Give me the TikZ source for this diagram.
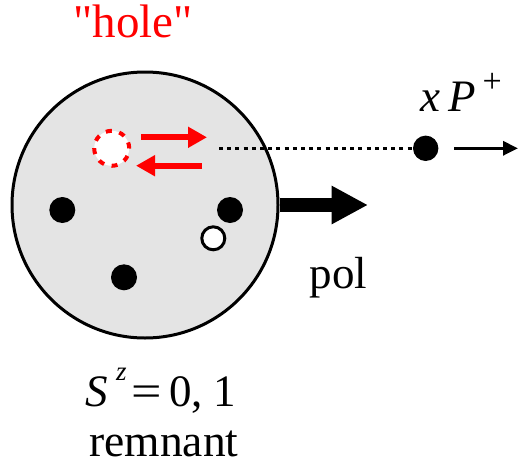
\documentclass[tikz,border=0pt]{standalone}
\usepackage{fontspec}
\setmainfont{Liberation Serif}[Ligatures=TeXOff]
\usetikzlibrary{arrows.meta}
\definecolor{ballgray}{RGB}{228,228,228}
\definecolor{holered}{RGB}{255,0,0}
\tikzset{
  bigtxt/.style={font=\fontsize{45}{50}\selectfont, inner sep=0pt, anchor=base, text depth=0pt},
  soliddot/.style={circle, fill=black, inner sep=0pt, minimum size=26pt},
  opendot/.style={circle, draw=black, fill=white, line width=3pt, inner sep=0pt, minimum size=23pt},
  redarrow/.style={draw=holered, line width=6pt, -{Triangle[length=19pt,width=20pt]}},
}
\begin{document}
\begin{tikzpicture}[x=1pt,y=-1pt]
\useasboundingbox (0,0) rectangle (519,466);
% hadron
\node[circle, draw=black, fill=ballgray, line width=3pt, inner sep=0pt, minimum size=266pt] (ball) at (145,205) {};
% hole
\node[circle, draw=holered, fill=white, line width=4pt, dash pattern=on 6pt off 7.7pt, inner sep=0pt, minimum size=35pt] (hole) at (111.7,148.3) {};
% remnant partons
\node[soliddot] (q1) at (62.3,210) {};
\node[soliddot] (q2) at (230,210) {};
\node[soliddot] (q3) at (124,277.3) {};
\node[opendot] (aq) at (213.3,238.3) {};
% red arrows
\coordinate (ra1) at (141,137.3);
\coordinate (ra2) at (207,137.3);
\coordinate (rb1) at (202,165.7);
\coordinate (rb2) at (136,165.7);
\draw[redarrow] (ra1) -- (ra2);
\draw[redarrow] (rb1) -- (rb2);
% outgoing parton
\node[soliddot, minimum size=25.4pt] (out) at (425.7,148.3) {};
\coordinate (dl) at (219,148.3);
\draw[line width=3pt, dash pattern=on 4pt off 4.2pt] (dl) -- (out);
\coordinate (sa1) at (454,148.3);
\coordinate (sa2) at (518,148.3);
\draw[line width=3pt, -{Triangle[length=15pt,width=14pt]}] (sa1) -- (sa2);
% polarization arrow
\coordinate (pe) at (368,205);
\draw[line width=14pt, -{Triangle[length=36.5pt,width=36pt]}] (ball.east) -- (pe);
% texts
\node[bigtxt, text=holered, font=\fontsize{47}{50}\selectfont] (holetxt) at (133,37.7) {"hole"};
\node[bigtxt] (poltxt) at (338.3,288.3) {pol};
\node[bigtxt, anchor=base west] (xp) at (420,111.7) {\textit{x}\hspace{8pt}\textit{P}\hspace{7pt}\raisebox{19pt}{\fontsize{34}{34}\selectfont +}};
\node[bigtxt, anchor=base west] (sz) at (85.5,406.7) {\textit{S}\hspace{8pt}\raisebox{26pt}{\fontsize{27}{27}\selectfont\textit{z}}\hspace{5pt}\scalebox{1.2}[1]{=}\hspace{7pt}0,\hspace{11pt}1};
\node[bigtxt, font=\fontsize{45.5}{50}\selectfont] (rem) at (164,456) {remnant};
\end{tikzpicture}
\end{document}
